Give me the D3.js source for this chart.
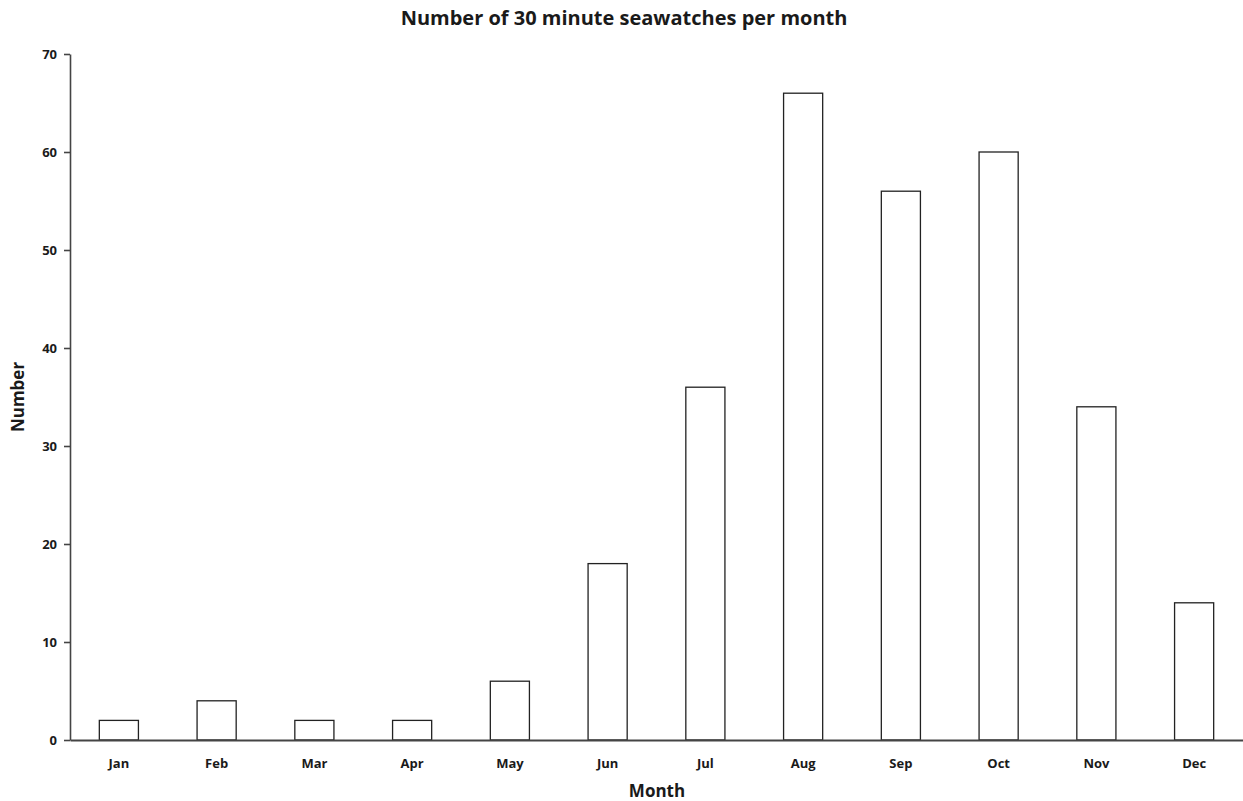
<!DOCTYPE html>
<html>
<head>
<meta charset="utf-8">
<script src="https://cdn.jsdelivr.net/npm/d3@7"></script>
<style>
  body { margin: 0; background: #fff; }
  text { font-family: "Open Sans", "DejaVu Sans", sans-serif; font-weight: bold; fill: #1a1a1a; }
</style>
</head>
<body>
<div id="vis"></div>
<script>
var months = ["Jan", "Feb", "Mar", "Apr", "May", "Jun", "Jul", "Aug", "Sep", "Oct", "Nov", "Dec"];
var counts = [2, 4, 2, 2, 6, 18, 36, 66, 56, 60, 34, 14];
var yTicks = [0, 10, 20, 30, 40, 50, 60, 70];

var margin = { top: 54, right: 0, bottom: 61, left: 70 };
var width = 1243 - margin.left - margin.right,
    height = 801 - margin.top - margin.bottom;

var svg = d3.select("#vis")
    .append("svg")
    .attr("width", 1243)
    .attr("height", 801);

var g = svg.append("g")
    .attr("transform", "translate(" + margin.left + "," + margin.top + ")");

var x = d3.scaleBand().domain(months).range([0, width]).paddingInner(0.6).paddingOuter(0.3);
var y = d3.scaleLinear().domain([0, 70]).range([height, 0]);

// bars
g.selectAll("rect.bar")
    .data(months)
    .enter().append("rect")
    .attr("class", "bar")
    .attr("x", d => x(d))
    .attr("y", (d, i) => y(counts[i]))
    .attr("width", x.bandwidth())
    .attr("height", (d, i) => height - y(counts[i]))
    .attr("fill", "#fff")
    .attr("stroke", "#222")
    .attr("stroke-width", 1.3);

// y axis
var yAxis = g.append("g")
    .call(d3.axisLeft(y).tickValues(yTicks).tickSize(6).tickSizeOuter(0));
yAxis.select(".domain").attr("stroke", "#444").attr("stroke-width", 1.6);
yAxis.selectAll(".tick line").attr("stroke", "#444").attr("stroke-width", 1.6);
yAxis.selectAll(".tick text").attr("x", -13).style("font-size", "13px");

// x axis
var xAxis = g.append("g")
    .attr("transform", "translate(0," + height + ")")
    .call(d3.axisBottom(x).tickSize(0).tickSizeOuter(0));
xAxis.select(".domain").attr("stroke", "#444").attr("stroke-width", 2);
xAxis.selectAll(".tick text").attr("dy", "1.95em").style("font-size", "13px");

// titles
svg.append("text")
    .attr("x", 624)
    .attr("y", 25)
    .attr("text-anchor", "middle")
    .style("font-size", "20px")
    .text("Number of 30 minute seawatches per month");

svg.append("text")
    .attr("x", 657)
    .attr("y", 797)
    .attr("text-anchor", "middle")
    .style("font-size", "17px")
    .text("Month");

svg.append("text")
    .attr("transform", "translate(24,397) rotate(-90)")
    .attr("text-anchor", "middle")
    .style("font-size", "17px")
    .text("Number");
</script>
</body>
</html>
